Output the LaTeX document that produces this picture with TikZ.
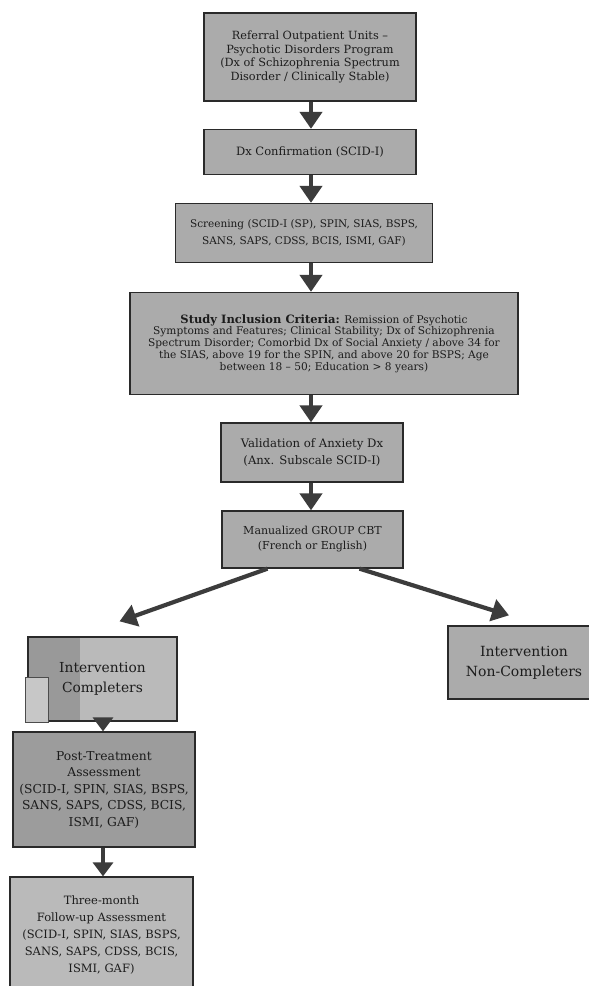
\documentclass[tikz,border=0pt]{standalone}
\usepackage{fontspec}
\setmainfont{DejaVu Serif}
\usetikzlibrary{arrows.meta,calc}
\definecolor{boxfill}{HTML}{ABABAB}
\definecolor{boxline}{HTML}{2A2A2A}
\definecolor{arrowgray}{HTML}{3C3C3C}
\definecolor{inktext}{HTML}{1C1C1C}

\begin{document}
\begin{tikzpicture}[x=1pt,y=-1pt,
  box/.style={draw=boxline, line width=1.3pt, fill=boxfill, text=inktext,
    align=center, inner sep=0pt},
  flow/.style={draw=arrowgray, line width=4.2pt,
    -{Triangle[width=22pt,length=17pt]}},
  shortflow/.style={draw=arrowgray, line width=3.5pt,
    -{Triangle[width=20pt,length=14pt]}},
]
\clip (0,0) rectangle (589,986);
\fill[white] (0,0) rectangle (589,986);

% vertical axes of the two columns of arrows
\coordinate (ax) at (311,0);
\coordinate (lx) at (103,0);

% main column
\node[box, minimum width=212pt, minimum height=88pt,
  font=\fontsize{11.3}{13.4}\selectfont] (ref) at (310,57)
  {Referral Outpatient Units --\\Psychotic Disorders Program\\(Dx of Schizophrenia Spectrum\\Disorder / Clinically Stable)};

\node[box, minimum width=212pt, minimum height=45pt,
  font=\fontsize{11.5}{13.5}\selectfont] (conf) at (310,152)
  {Dx Confirmation (SCID-I)};

\node[box, minimum width=257pt, minimum height=59pt,
  font=\fontsize{10.5}{16.5}\selectfont] (scr) at (304,233)
  {Screening (SCID-I (SP), SPIN, SIAS, BSPS,\\SANS, SAPS, CDSS, BCIS, ISMI, GAF)};

\node[box, minimum width=388pt, minimum height=102pt,
  font=\fontsize{10.6}{11.8}\selectfont] (incl) at (324,343.5)
  {{\fontsize{11.5}{11.8}\selectfont\bfseries Study Inclusion Criteria:} Remission of Psychotic\\Symptoms and Features; Clinical Stability; Dx of Schizophrenia\\Spectrum Disorder; Comorbid Dx of Social Anxiety / above 34 for\\the SIAS, above 19 for the SPIN, and above 20 for BSPS; Age\\between 18 -- 50; Education > 8 years)};

\node[box, minimum width=182pt, minimum height=59pt,
  font=\fontsize{11.7}{16.5}\selectfont] (valid) at (312,452.5)
  {Validation of Anxiety Dx\\(Anx. Subscale SCID-I)};

\node[box, minimum width=181pt, minimum height=57pt,
  font=\fontsize{11}{15}\selectfont] (cbt) at (312.5,539.5)
  {Manualized GROUP CBT\\(French or English)};

% outcome branches
\node[box, minimum width=149pt, minimum height=84pt, fill=black!27,
  font=\fontsize{13.8}{20}\selectfont,
  path picture={\fill[black!40] (path picture bounding box.north west)
    rectangle ($(path picture bounding box.south west)+(52,0)$);}]
  (comp) at (102.5,679) {Intervention\\Completers};

\node[box, minimum width=152pt, minimum height=73pt,
  font=\fontsize{14}{20}\selectfont] (noncomp) at (524,662.5)
  {Intervention\\Non-Completers};

\node[box, minimum width=182pt, minimum height=115pt, fill=black!39,
  font=\fontsize{12.3}{16.5}\selectfont,
  path picture={\fill[black!25] (24,768) rectangle (185,835);}]
  (post) at (104,789.5)
  {Post-Treatment\\Assessment\\(SCID-I, SPIN, SIAS, BSPS,\\SANS, SAPS, CDSS, BCIS,\\ISMI, GAF)};

\node[box, minimum width=183pt, minimum height=116pt, fill=black!27,
  font=\fontsize{11.5}{17}\selectfont,
  path picture={\fill[black!33] (0,972) rectangle (200,990);}]
  (three) at (101.5,935)
  {Three-month\\Follow-up Assessment\\(SCID-I, SPIN, SIAS, BSPS,\\SANS, SAPS, CDSS, BCIS,\\ISMI, GAF)};

% small patch on the completers box
\filldraw[fill=black!22, draw=black!70, line width=0.8pt] (25.5,677) rectangle (48,722);

% connectors
\draw[flow] (ref.south -| ax) -- (conf.north -| ax);
\draw[flow] (conf.south -| ax) -- (scr.north -| ax);
\draw[flow] (scr.south -| ax) -- (incl.north -| ax);
\draw[flow] (incl.south -| ax) -- (valid.north -| ax);
\draw[flow] (valid.south -| ax) -- (cbt.north -| ax);
\draw[flow] ($(cbt.south)+(-45,0)$) -- ($(comp.north)+(17,-15)$);
\draw[flow] ($(cbt.south)+(47,0)$) -- ($(noncomp.north)+(-15,-10)$);
\draw[shortflow] (comp.south -| lx) -- (post.north -| lx);
\draw[shortflow] (post.south -| lx) -- (three.north -| lx);
\end{tikzpicture}
\end{document}
